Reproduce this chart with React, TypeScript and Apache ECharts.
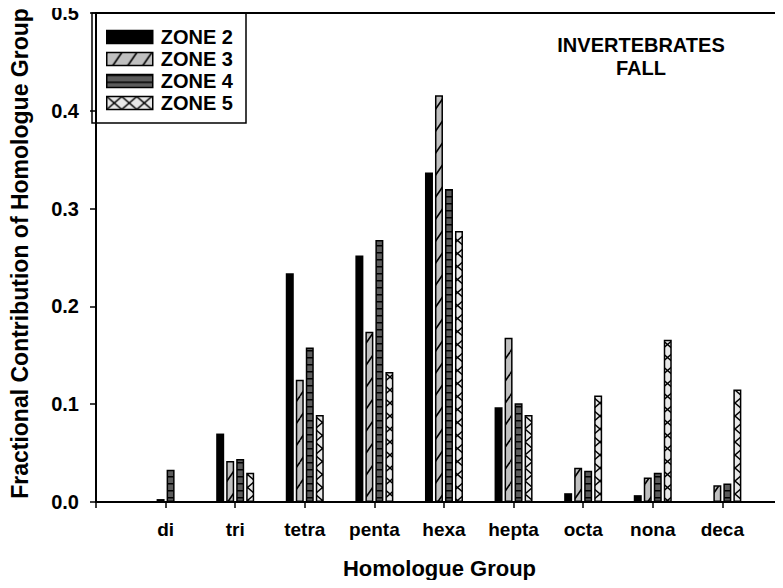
import React, { useEffect, useRef } from 'react';
import * as echarts from 'echarts';

const FONT = '"Liberation Sans", Arial, Helvetica, sans-serif';

const categories = ['di', 'tri', 'tetra', 'penta', 'hexa', 'hepta', 'octa', 'nona', 'deca'];
const seriesNames = ['ZONE 2', 'ZONE 3', 'ZONE 4', 'ZONE 5'];
const zone2: (number | null)[] = [null, 0.070, 0.234, 0.252, 0.337, 0.097, 0.009, 0.007, null];
const zone3: (number | null)[] = [0.003, 0.042, 0.125, 0.174, 0.416, 0.168, 0.035, 0.025, 0.017];
const zone4: (number | null)[] = [0.033, 0.044, 0.158, 0.268, 0.320, 0.101, 0.032, 0.030, 0.019];
const zone5: (number | null)[] = [null, 0.030, 0.089, 0.133, 0.277, 0.089, 0.109, 0.166, 0.115];
const yMin = 0;
const yMax = 0.5;
const yStep = 0.1;
const annotation = 'INVERTEBRATES\nFALL';
const xTitle = 'Homologue Group';
const yTitle = 'Fractional Contribution of Homologue Group';

function makeTile(w: number, h: number, draw: (ctx: CanvasRenderingContext2D) => void) {
  const c = document.createElement('canvas');
  c.width = w;
  c.height = h;
  const ctx = c.getContext('2d') as CanvasRenderingContext2D;
  draw(ctx);
  return { image: c, repeat: 'repeat', imageWidth: w, imageHeight: h } as any;
}

function line(ctx: CanvasRenderingContext2D, x1: number, y1: number, x2: number, y2: number) {
  ctx.beginPath();
  ctx.moveTo(x1, y1);
  ctx.lineTo(x2, y2);
  ctx.stroke();
}

export default function App() {
  const ref = useRef<HTMLDivElement>(null);
  useEffect(() => {
    if (!ref.current) return;
    const chart = echarts.init(ref.current, null, { renderer: 'svg' });

    const hatch = makeTile(15, 22, (ctx) => {
      ctx.fillStyle = '#c0c0c0';
      ctx.fillRect(0, 0, 15, 22);
      ctx.strokeStyle = '#000';
      ctx.lineWidth = 1.6;
      line(ctx, 0, 22, 15, 0);
      line(ctx, -15, 22, 0, 0);
      line(ctx, 15, 22, 30, 0);
    });
    const ladder = makeTile(8, 7, (ctx) => {
      ctx.fillStyle = '#5c5c5c';
      ctx.fillRect(0, 0, 8, 7);
      ctx.fillStyle = '#000';
      ctx.fillRect(0, 0, 8, 1.5);
    });
    const cross = makeTile(15, 13, (ctx) => {
      ctx.fillStyle = '#e8e8e8';
      ctx.fillRect(0, 0, 15, 13);
      ctx.strokeStyle = '#000';
      ctx.lineWidth = 1.4;
      line(ctx, 0, 0, 15, 13);
      line(ctx, 0, 13, 15, 0);
    });

    const fills: any[] = ['#000000', hatch, ladder, cross];
    const datasets = [zone2, zone3, zone4, zone5];

    const series = datasets.map((vals, s) => ({
      name: seriesNames[s],
      type: 'bar',
      xAxisIndex: 0,
      yAxisIndex: 0,
      barWidth: 8,
      barGap: '25%',
      data: vals.map((v, i) => [i + 1, v == null ? '-' : v]),
      itemStyle: {
        color: fills[s],
        borderColor: '#000',
        borderWidth: s === 0 ? 0 : 1.5,
      },
    }));

    const xMax = 691 / 70;

    const option: any = {
      animation: false,
      backgroundColor: '#fff',
      grid: { left: 92, right: 0, top: 13, bottom: 86, containLabel: false },
      xAxis: [
        {
          type: 'value',
          min: 0,
          max: xMax,
          interval: 1,
          position: 'bottom',
          name: xTitle,
          nameLocation: 'middle',
          nameGap: 55,
          nameTextStyle: { fontFamily: FONT, fontWeight: 'bold', fontSize: 22, color: '#000' },
          axisLine: { show: true, lineStyle: { color: '#000', width: 2 } },
          axisTick: { show: true, inside: false, length: 6, lineStyle: { color: '#000', width: 1.5 } },
          axisLabel: {
            margin: 18,
            fontFamily: FONT,
            fontWeight: 'bold',
            fontSize: 19,
            color: '#000',
            showMaxLabel: false,
            formatter: (v: number) => (Number.isInteger(v) ? categories[v - 1] ?? '' : ''),
          },
          splitLine: { show: false },
        },
        {
          type: 'value',
          min: 0,
          max: xMax,
          position: 'top',
          axisLine: { show: true, lineStyle: { color: '#000', width: 2 } },
          axisTick: { show: false },
          axisLabel: { show: false },
          splitLine: { show: false },
        },
      ],
      yAxis: {
        type: 'value',
        min: yMin,
        max: yMax,
        interval: yStep,
        name: yTitle,
        nameLocation: 'middle',
        nameGap: 65,
        nameTextStyle: { fontFamily: FONT, fontWeight: 'bold', fontSize: 23, color: '#000', padding: [0, 0, 0, 8] },
        axisLine: { show: true, lineStyle: { color: '#000', width: 2 } },
        axisTick: { show: true, inside: false, length: 6, lineStyle: { color: '#000', width: 1.5 } },
        axisLabel: {
          margin: 17,
          fontFamily: FONT,
          fontWeight: 'bold',
          fontSize: 20,
          color: '#000',
          formatter: (v: number) => v.toFixed(1),
        },
        splitLine: { show: false },
      },
      legend: {
        orient: 'vertical',
        left: 106,
        top: 27,
        padding: 0,
        icon: 'rect',
        itemWidth: 46,
        itemHeight: 13,
        itemGap: 2,
        data: seriesNames,
        itemStyle: { borderWidth: 1.5, borderColor: '#000' },
        textStyle: {
          fontFamily: FONT,
          fontWeight: 'bold',
          fontSize: 20,
          lineHeight: 20,
          color: '#000',
          padding: [0, 0, 0, 3],
        },
      },
      graphic: [
        {
          type: 'rect',
          shape: { x: 92, y: 13, width: 154, height: 110 },
          style: { fill: 'transparent', stroke: '#000', lineWidth: 1.5 },
          silent: true,
        },
        {
          type: 'text',
          x: 641,
          y: 33,
          style: {
            text: annotation,
            textAlign: 'center',
            textVerticalAlign: 'top',
            font: `bold 20px ${FONT}`,
            lineHeight: 23,
            fill: '#000',
          },
        },
      ],
      series,
    };
    chart.setOption(option);
    return () => chart.dispose();
  }, []);
  return <div ref={ref} style={{ width: 783, height: 588, margin: -8 }} />;
}
